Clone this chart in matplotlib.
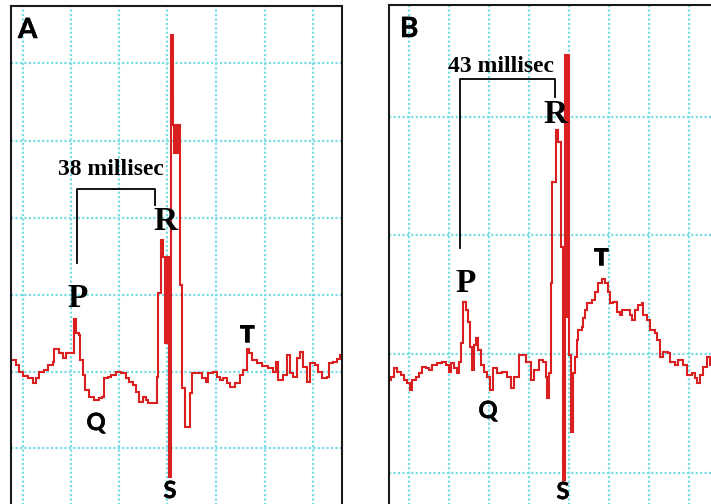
import matplotlib
matplotlib.use("Agg")
import matplotlib.pyplot as plt
import matplotlib.patheffects as pe

# ---------------- data (time in samples, amplitude in arbitrary units) ----------------
a_t = [0, 2, 5, 8, 12, 17, 22, 25, 28, 33, 37, 42, 43, 48, 52, 55, 63, 65, 68, 69, 72, 74,
       78, 83, 88, 91, 93, 97, 100, 105, 110, 115, 118, 122, 125, 128, 132, 135, 137, 146,
       147, 150, 152, 154, 155, 156, 157, 158, 160, 162, 163, 164, 165, 166, 167, 168, 169,
       171, 174, 179, 181, 191, 195, 197, 202, 206, 209, 212, 216, 219, 224, 229, 232, 236,
       238, 241, 246, 251, 257, 262, 265, 267, 272, 276, 279, 282, 286, 289, 292, 296, 299,
       304, 307, 311, 316, 318, 322, 326, 329, 331]
a_v = [12, 12, 7, 0, -4, -6, -11, -6, 0, 2, 7, 10, 23, 19, 14, 19, 53, 39, 37, 12, -3, -18,
       -25, -28, -26, -25, -6, -5, -3, 0, -1, -6, -10, -13, -20, -30, -25, -28, -31, -5,
       79, 132, 115, 29, 115, 29, 115, -105, 337, 247, 219, 247, 219, 247, 219, 247, 87,
       -16, -55, -21, -1, -6, -10, -1, 0, -5, -8, -6, -11, -15, -11, -3, 2, 23,
       19, 12, 9, 6, 4, 0, 10, -8, -3, 17, -1, -5, 14, 20, 5, -10, 9,
       7, 0, -6, -5, 9, 10, 13, 17, 17]

b_t = [0, 2, 5, 8, 12, 15, 18, 21, 23, 27, 30, 33, 37, 40, 43, 48, 53, 57, 60, 62, 65, 68,
       70, 72, 74, 77, 79, 81, 83, 85, 87, 89, 92, 95, 98, 101, 104, 108, 113, 118, 122,
       125, 130, 137, 142, 145, 150, 154, 157, 158, 160, 162, 163, 167, 169, 172, 174, 176,
       178, 179, 180, 182, 184, 186, 188, 189, 193, 194, 196, 198, 203, 206, 209, 213, 216,
       219, 221, 224, 228, 231, 233, 241, 243, 246, 249, 253, 254, 258, 261, 266, 268, 271,
       274, 279, 281, 286, 289, 294, 298, 303, 306, 308, 311, 314, 318, 321, 323]
b_v = [-26, -23, -14, -18, -21, -26, -29, -36, -26, -23, -19, -13, -14, -16, -11, -9, -8,
       -11, -18, -9, -14, -19, -8, 11, 52, 44, 32, 7, -16, 9, 16, 4, -11, -18, -23, -36,
       -14, -19, -18, -23, -34, -23, -1, -8, -26, -16, -6, -8, -23, -44, -19, 71, 172, 224,
       212, 107, -126, 299, 37, 299, -1, -78, -19, -3, 14, 24, 27, 36, 44, 51, 54, 62, 71,
       75, 71, 62, 51, 52, 42, 39, 44, 39, 34, 44, 49, 51, 39, 34, 24, 21, 14, -3, 2, 1,
       -8, -11, -6, -11, -21, -19, -24, -29, -21, -13, -3, -11, -11]

panel_labels = ["A", "B"]
interval_labels = ["38 millisec", "43 millisec"]
wave_labels = ["P", "Q", "R", "S", "T"]

# ---------------- style ----------------
RED = "#d91f1f"
GRID = "#78dde4"
SANS = ["Lato", "DejaVu Sans"]
SERIF = ["Liberation Serif", "DejaVu Serif"]
HEAVY = [pe.withStroke(linewidth=0.4, foreground="black")]

W, H = 711, 504
fig = plt.figure(figsize=(W / 100, H / 100), dpi=100)
fig.patch.set_facecolor("white")


def make_axes(left_px, top_px, right_px, bottom_px):
    return fig.add_axes([left_px / W, 1 - bottom_px / H,
                         (right_px - left_px) / W, (bottom_px - top_px) / H])


def style(ax, xgrid, ygrid, xlim, ylim):
    ax.set_xlim(*xlim)
    ax.set_ylim(*ylim)
    ax.set_xticks(xgrid)
    ax.set_yticks(ygrid)
    ax.tick_params(length=0, labelbottom=False, labelleft=False)
    ax.grid(True, color=GRID, linestyle=(0, (1.0, 1.0)), linewidth=1.6)
    ax.set_axisbelow(True)
    for s in ax.spines.values():
        s.set_linewidth(1.5)
        s.set_color("#1a1a1a")


def sans(ax, x, y, s, size=17, **kw):
    ax.text(x, y, s, family=SANS, fontweight="bold", fontsize=size, va="baseline",
            path_effects=HEAVY, **kw)


def serif(ax, x, y, s, size=24):
    ax.text(x, y, s, family=SERIF, fontweight="bold", fontsize=size, ha="center", va="baseline")


# ---------------- panel A ----------------
axA = make_axes(11, 6, 342, 530)
style(axA, [12, 60, 108, 156, 205, 254, 302], [-76, 0, 77, 154, 231, 309],
      (0, 331), (-158, 366))
axA.plot(a_t, a_v, drawstyle="steps-post", color=RED, lw=1.5, solid_joinstyle="miter")
axA.plot([66, 66, 144, 144], [109, 183, 183, 167], color="black", lw=1.3)
sans(axA, 7, 334, panel_labels[0], size=20)
serif(axA, 100, 197, interval_labels[0], size=17)
serif(axA, 67, 65, wave_labels[0])
sans(axA, 85, -58, wave_labels[1], ha="center")
serif(axA, 154, 142, wave_labels[2])
sans(axA, 159, -126, wave_labels[3], ha="center")
sans(axA, 236, 30, wave_labels[4], ha="center")

# ---------------- panel B ----------------
axB = make_axes(389, 5, 720, 530)
style(axB, [20, 60, 100, 140, 180, 220, 260, 300], [-119, 0, 119, 237],
      (0, 331), (-176, 349))
axB.plot(b_t, b_v, drawstyle="steps-post", color=RED, lw=1.5, solid_joinstyle="miter")
axB.plot([71, 71, 166, 166], [106, 275, 275, 257], color="black", lw=1.3)
sans(axB, 11, 317, panel_labels[1], size=20)
serif(axB, 112, 282, interval_labels[1], size=17)
serif(axB, 77, 62, wave_labels[0])
sans(axB, 99, -64, wave_labels[1], ha="center")
serif(axB, 166, 231, wave_labels[2])
sans(axB, 174, -145, wave_labels[3], ha="center")
sans(axB, 212, 89, wave_labels[4], ha="center")

fig.savefig("out.png", dpi=100)
